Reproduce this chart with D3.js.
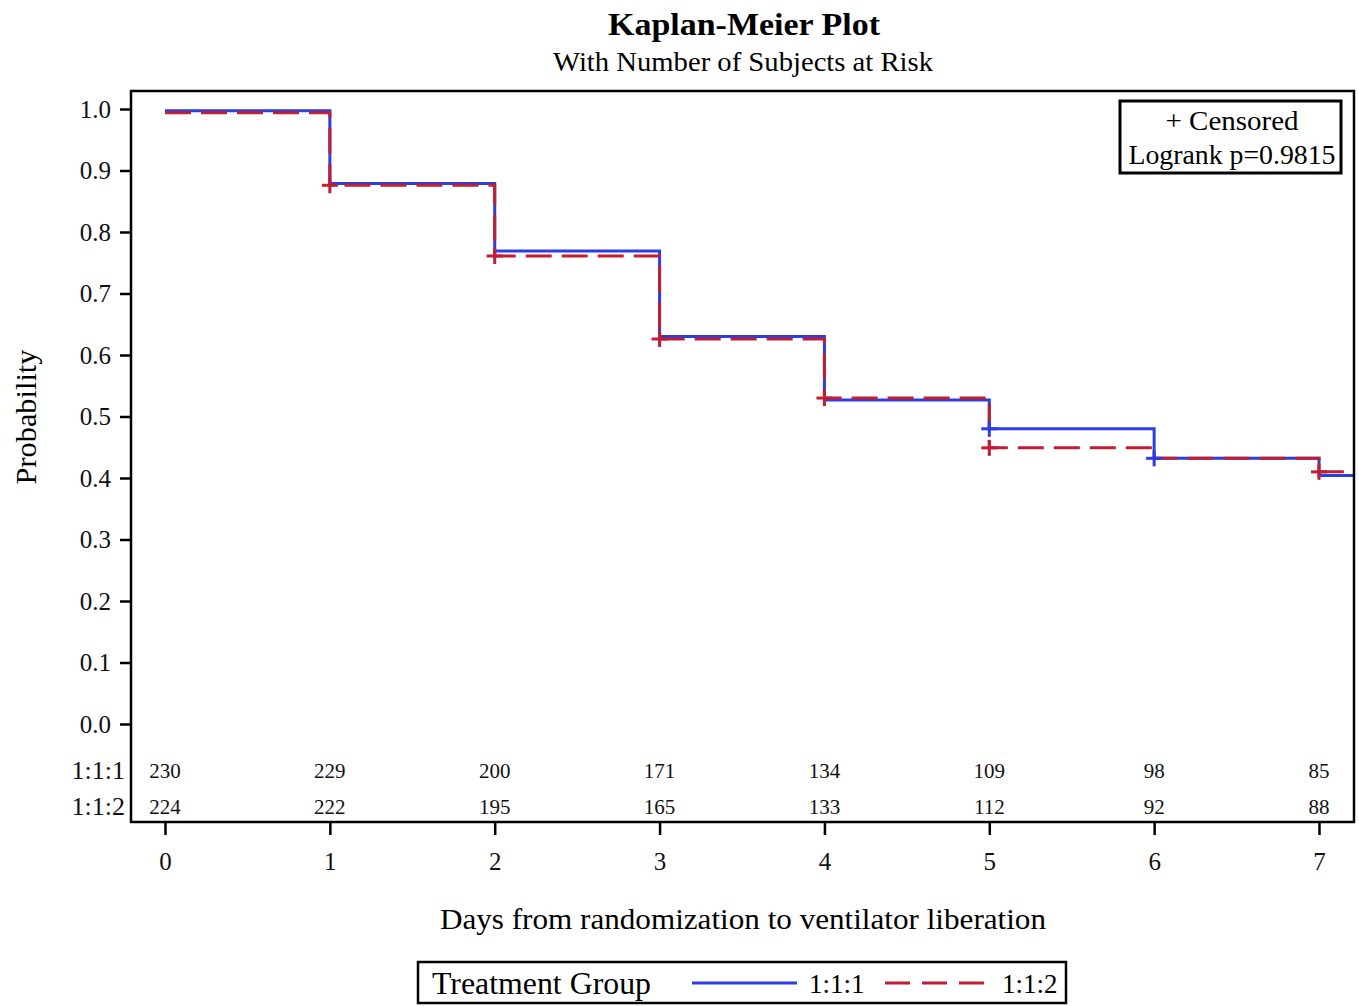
<!DOCTYPE html>
<html>
<head>
<meta charset="utf-8">
<script src="https://cdn.jsdelivr.net/npm/d3@7"></script>
<style>
  body { margin: 0; background: #fff; }
  svg { display: block; font-family: "Liberation Serif", "Times New Roman", serif; }
</style>
</head>
<body>
<svg id="chart" width="1359" height="1006"></svg>
<script>
// ---- data ----
const title = "Kaplan-Meier Plot";
const subtitle = "With Number of Subjects at Risk";
const groups = ["1:1:1", "1:1:2"];
const days = [0, 1, 2, 3, 4, 5, 6, 7];
const surv111 = [0.997, 0.879, 0.769, 0.630, 0.527, 0.480, 0.432, 0.404];
const surv112 = [0.994, 0.876, 0.761, 0.626, 0.530, 0.449, 0.432, 0.410];
const censor111 = [5, 6];
const censor112 = [1, 2, 3, 4, 5, 7];
const atRisk111 = [230, 229, 200, 171, 134, 109, 98, 85];
const atRisk112 = [224, 222, 195, 165, 133, 112, 92, 88];
const yTicks = [0.0, 0.1, 0.2, 0.3, 0.4, 0.5, 0.6, 0.7, 0.8, 0.9, 1.0];
const xTicks = [0, 1, 2, 3, 4, 5, 6, 7];
const logrankText = "Logrank p=0.9815";

// ---- layout ----
const svg = d3.select("#chart");
const frame = {left: 131, top: 91, right: 1354, bottom: 822};
const BLUE = "#2b3de3", RED = "#bf1e33";

const x = d3.scaleLinear().domain([0, 7]).range([165, 1319]);
const xMax = x.invert(frame.right);
const y = d3.scaleLinear().domain([0, 1]).range([724, 109]);

function fitText(sel, len) {
  return sel.attr("textLength", len).attr("lengthAdjust", "spacingAndGlyphs");
}

// titles
fitText(svg.append("text").attr("x", 744).attr("y", 35).attr("text-anchor", "middle")
  .attr("font-size", 32).attr("font-weight", "bold").text(title), 272);
fitText(svg.append("text").attr("x", 743).attr("y", 71).attr("text-anchor", "middle")
  .attr("font-size", 27).text(subtitle), 380);

// clip
svg.append("clipPath").attr("id", "clip").append("rect")
  .attr("x", frame.left).attr("y", frame.top)
  .attr("width", frame.right - frame.left).attr("height", frame.bottom - frame.top);

// y axis
const yAxis = d3.axisLeft(y).tickValues(yTicks).tickFormat(d3.format(".1f")).tickSize(11).tickPadding(9);
const yg = svg.append("g").attr("transform", `translate(${frame.left},0)`).call(yAxis);
yg.select(".domain").remove();
yg.selectAll(".tick line").attr("stroke", "#000").attr("stroke-width", 2.5);
yg.selectAll(".tick text").attr("font-size", 25).attr("font-family", "Liberation Serif").attr("fill", "#111");

// x axis
const xAxis = d3.axisBottom(x).tickValues(xTicks).tickFormat(d3.format("d")).tickSize(13).tickPadding(17);
const xg = svg.append("g").attr("transform", `translate(0,${frame.bottom})`).call(xAxis);
xg.select(".domain").remove();
xg.selectAll(".tick line").attr("stroke", "#000").attr("stroke-width", 2.5);
xg.selectAll(".tick text").attr("font-size", 25).attr("font-family", "Liberation Serif").attr("fill", "#111");

// axis labels
fitText(svg.append("text").attr("transform", "translate(36,417) rotate(-90)").attr("text-anchor", "middle")
  .attr("font-size", 29).text("Probability"), 135);
fitText(svg.append("text").attr("x", 743).attr("y", 929).attr("text-anchor", "middle")
  .attr("font-size", 30).text("Days from randomization to ventilator liberation"), 606);

// curves
const line = d3.line().x(d => x(d[0])).y(d => y(d[1])).curve(d3.curveStepAfter);
function pts(s) {
  const p = days.map((d, i) => [d, s[i]]);
  p.push([xMax, s[s.length - 1]]);
  return p;
}
const plot = svg.append("g").attr("clip-path", "url(#clip)");
plot.append("path").attr("d", line(pts(surv111))).attr("fill", "none")
  .attr("stroke", BLUE).attr("stroke-width", 3);
plot.append("path").attr("d", line(pts(surv112))).attr("fill", "none")
  .attr("stroke", RED).attr("stroke-width", 3).attr("stroke-dasharray", "26,10");

function censorMarks(list, s, color) {
  const data = list.map(d => [d, s[days.indexOf(d)]]);
  const g = plot.append("g").attr("stroke", color).attr("stroke-width", 3);
  data.forEach(d => {
    const cx = x(d[0]), cy = y(d[1]);
    g.append("line").attr("x1", cx - 8).attr("x2", cx + 8).attr("y1", cy).attr("y2", cy);
    g.append("line").attr("x1", cx).attr("x2", cx).attr("y1", cy - 8).attr("y2", cy + 8);
  });
}
censorMarks(censor112, surv112, RED);
censorMarks(censor111, surv111, BLUE);

// at risk table
const riskRows = [atRisk111, atRisk112];
const rowY = [778, 814];
riskRows.forEach((row, r) => {
  svg.append("g").selectAll("text").data(row).join("text")
    .attr("x", (d, i) => x(days[i])).attr("y", rowY[r]).attr("text-anchor", "middle")
    .attr("font-size", 21).attr("fill", "#111").text(d => d);
  svg.append("text").attr("x", 125).attr("y", rowY[r] + 1).attr("text-anchor", "end")
    .attr("font-size", 26).attr("fill", "#111").text(groups[r]);
});

// frame
svg.append("rect").attr("x", frame.left).attr("y", frame.top)
  .attr("width", frame.right - frame.left).attr("height", frame.bottom - frame.top)
  .attr("fill", "none").attr("stroke", "#000").attr("stroke-width", 2.5);

// inset legend
const ib = {x: 1120, y: 101, w: 221, h: 72};
svg.append("rect").attr("x", ib.x).attr("y", ib.y).attr("width", ib.w).attr("height", ib.h)
  .attr("fill", "#fff").attr("stroke", "#000").attr("stroke-width", 3);
fitText(svg.append("text").attr("x", 1232).attr("y", 130).attr("text-anchor", "middle")
  .attr("font-size", 27).text("+ Censored"), 133);
fitText(svg.append("text").attr("x", 1232).attr("y", 164).attr("text-anchor", "middle")
  .attr("font-size", 27).text(logrankText), 207);

// bottom legend
const lb = {x: 418, y: 962, w: 648, h: 41};
svg.append("rect").attr("x", lb.x).attr("y", lb.y).attr("width", lb.w).attr("height", lb.h)
  .attr("fill", "#fff").attr("stroke", "#000").attr("stroke-width", 2.5);
fitText(svg.append("text").attr("x", 432).attr("y", 994).attr("font-size", 31).text("Treatment Group"), 219);
svg.append("line").attr("x1", 692).attr("x2", 797).attr("y1", 983).attr("y2", 983)
  .attr("stroke", BLUE).attr("stroke-width", 3);
svg.append("text").attr("x", 809).attr("y", 993).attr("font-size", 27).text(groups[0]);
svg.append("line").attr("x1", 885).attr("x2", 985).attr("y1", 983).attr("y2", 983)
  .attr("stroke", RED).attr("stroke-width", 3).attr("stroke-dasharray", "25,12");
svg.append("text").attr("x", 1002).attr("y", 993).attr("font-size", 27).text(groups[1]);
</script>
</body>
</html>
